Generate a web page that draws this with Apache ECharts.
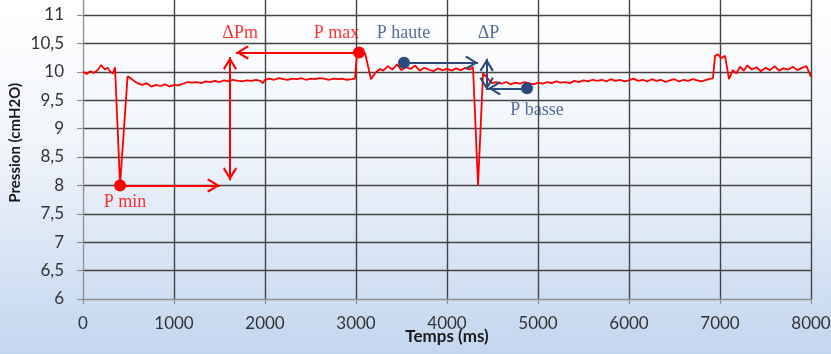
<!DOCTYPE html>
<html>
<head>
<meta charset="utf-8">
<script src="https://cdn.jsdelivr.net/npm/echarts@6/dist/echarts.min.js"></script>
<style>html,body{margin:0;padding:0;background:#fff;}#chart{width:831px;height:354px;}</style>
</head>
<body>
<div id="chart"></div>
<script>
// ---- data ----
const timeMs = [0,40,80,120,160,200,240,270,300,330,352,407,490,530,570,610,650,700,750,800,850,900,950,1000,1050,1100,1150,1200,1250,1300,1350,1400,1450,1500,1550,1600,1650,1700,1750,1800,1850,1900,1950,1975,2000,2050,2100,2150,2200,2250,2300,2350,2400,2450,2500,2550,2600,2650,2700,2750,2800,2850,2900,2950,2989,3011,3040,3070,3099,3165,3210,3264,3300,3350,3400,3450,3500,3550,3600,3650,3700,3750,3800,3850,3900,3950,4000,4050,4100,4150,4200,4250,4286,4341,4396,4440,4490,4540,4600,4650,4700,4750,4800,4850,4900,4950,5000,5050,5100,5150,5200,5250,5300,5350,5400,5450,5500,5550,5600,5650,5700,5750,5800,5850,5900,5950,6000,6050,6100,6150,6200,6250,6300,6350,6400,6450,6500,6550,6600,6650,6700,6750,6800,6850,6900,6923,6945,6980,7010,7055,7099,7140,7180,7220,7260,7300,7350,7400,7450,7500,7550,7600,7650,7700,7750,7800,7850,7900,7950,8000];
const pressure = [10.00,9.96,10.01,9.98,10.03,10.12,10.04,10.07,10.00,9.97,10.08,8.00,9.92,9.88,9.83,9.79,9.77,9.80,9.74,9.77,9.75,9.78,9.74,9.77,9.76,9.79,9.82,9.81,9.82,9.80,9.83,9.82,9.84,9.82,9.85,9.83,9.86,9.84,9.83,9.85,9.84,9.86,9.84,9.80,9.86,9.88,9.86,9.89,9.87,9.86,9.88,9.87,9.89,9.86,9.88,9.87,9.89,9.88,9.86,9.88,9.87,9.88,9.86,9.87,9.88,10.33,10.36,10.31,10.33,9.87,9.98,10.05,10.02,10.10,10.04,10.13,10.03,10.08,10.05,10.11,10.02,10.07,10.04,10.01,10.06,10.03,10.05,10.02,10.06,10.03,10.07,10.04,10.08,8.00,9.97,9.90,9.80,9.82,9.79,9.82,9.78,9.81,9.79,9.82,9.80,9.78,9.81,9.79,9.82,9.80,9.83,9.81,9.82,9.80,9.84,9.82,9.85,9.83,9.86,9.84,9.86,9.83,9.87,9.84,9.86,9.83,9.85,9.88,9.84,9.86,9.83,9.87,9.84,9.86,9.82,9.85,9.87,9.83,9.86,9.84,9.87,9.85,9.83,9.86,9.88,9.89,10.28,10.31,10.24,10.28,9.87,10.03,9.97,10.09,10.02,10.11,10.04,10.08,10.01,10.07,10.03,10.10,10.02,10.06,10.04,10.09,10.03,10.07,10.10,9.91];

// marked points
const redPointNames = ['P min', 'P max'];
const redPointX = [407, 3033];
const redPointY = [8.00, 10.34];
const bluePointNames = ['P haute', 'P basse'];
const bluePointX = [3527, 4879];
const bluePointY = [10.16, 9.71];

// arrows: [x start, y start, x end (tip), y end (tip), double headed]
const redArrows = [[407, 8.00, 1505, 8.00, 0], [1615, 8.09, 1615, 10.26, 1], [3033, 10.34, 1681, 10.34, 0]];
const blueArrows = [[3527, 10.16, 4341, 10.16, 0], [4436, 9.68, 4436, 10.23, 1], [4879, 9.71, 4451, 9.71, 0]];

// annotation texts
const redLabelTexts = ['P min', '\u0394Pm', 'P max'];
const redLabelX = [462, 1727, 2786];
const redLabelY = [7.70, 10.67, 10.67];
const blueLabelTexts = ['P haute', '\u0394P', 'P basse'];
const blueLabelX = [3522, 4456, 4989];
const blueLabelY = [10.67, 10.67, 9.33];

// ---- styles ----
const RED = '#FF0000';
const BLUE = '#2A4A7F';
const GRID = '#444444';
const AXIS = '#8f8f8f';
const chevron = 'path://M13,0L26,21L23,24L13,7L3,24L0,21Z';

function arrowData(list) {
  return list.map(a => {
    const head = { symbol: chevron, symbolSize: [14, 13], symbolOffset: [0, '50%'] };
    const start = Object.assign({ coord: [a[0], a[1]] }, a[4] ? head : { symbol: 'none' });
    const end = Object.assign({ coord: [a[2], a[3]] }, head);
    return [start, end];
  });
}
function namedData(texts, xs, ys) {
  return texts.map((t, i) => ({ name: t, value: [xs[i], ys[i]] }));
}

const chart = echarts.init(document.getElementById('chart'), null, { renderer: 'canvas' });
const option = {
  animation: false,
  backgroundColor: {
    type: 'linear', x: 0, y: 0, x2: 0, y2: 1,
    colorStops: [
      { offset: 0, color: '#FFFFFF' },
      { offset: 0.4, color: '#F1F5FB' },
      { offset: 1, color: '#C2D6EF' }
    ]
  },
  grid: { left: 83, right: 20, top: -13.4, bottom: 55, containLabel: false, outerBoundsMode: 'none' },
  xAxis: {
    type: 'value', min: 0, max: 8000, interval: 1000,
    name: 'Temps (ms)', nameLocation: 'middle', nameGap: 29, nameMoveOverlap: false,
    nameTextStyle: { fontFamily: 'Lato', fontWeight: 'bold', fontSize: 17, color: '#1a1a1a' },
    axisLine: { show: true, onZero: false, lineStyle: { color: AXIS, width: 1.3 } },
    axisTick: { show: true, length: 5, lineStyle: { color: AXIS, width: 1.2 } },
    axisLabel: { fontFamily: 'Lato', fontSize: 17, color: '#333333', margin: 16,
      formatter: v => String(v) },
    splitLine: { show: true, showMinLine: false, lineStyle: { color: GRID, width: 1.4 } }
  },
  yAxis: {
    type: 'value', min: 6, max: 11.5, interval: 0.5,
    name: 'Pression (cmH2O)', nameLocation: 'middle', nameGap: 60, nameRotate: 90, nameMoveOverlap: false,
    nameTextStyle: { fontFamily: 'Lato', fontWeight: 'bold', fontSize: 15, color: '#1a1a1a' },
    axisLine: { show: true, lineStyle: { color: AXIS, width: 1.3 } },
    axisTick: { show: true, length: 6, lineStyle: { color: AXIS, width: 1.2 } },
    axisLabel: { fontFamily: 'Lato', fontSize: 17, color: '#333333', margin: 19,
      formatter: v => String(v).replace('.', ',') },
    splitLine: { show: true, showMinLine: false, lineStyle: { color: GRID, width: 1.4 } }
  },
  series: [
    {
      name: 'Pression', type: 'line', z: 2,
      data: timeMs.map((t, i) => [t, pressure[i]]),
      showSymbol: false, symbol: 'none',
      lineStyle: { color: RED, width: 1.8 },
      silent: true
    },
    {
      name: 'redArrows', type: 'scatter', z: 3, data: [], silent: true,
      markLine: {
        silent: true, animation: false,
        label: { show: false },
        emphasis: { disabled: true },
        lineStyle: { color: RED, width: 2, type: 'solid' },
        itemStyle: { color: RED },
        data: arrowData(redArrows)
      }
    },
    {
      name: 'blueArrows', type: 'scatter', z: 3, data: [], silent: true,
      markLine: {
        silent: true, animation: false,
        label: { show: false },
        emphasis: { disabled: true },
        lineStyle: { color: BLUE, width: 2, type: 'solid' },
        itemStyle: { color: BLUE },
        data: arrowData(blueArrows)
      }
    },
    {
      name: 'redPoints', type: 'scatter', z: 5, silent: true,
      symbolSize: 12, itemStyle: { color: RED, opacity: 1 },
      data: namedData(redPointNames, redPointX, redPointY)
    },
    {
      name: 'bluePoints', type: 'scatter', z: 5, silent: true,
      symbolSize: 12, itemStyle: { color: BLUE, opacity: 1 },
      data: namedData(bluePointNames, bluePointX, bluePointY)
    },
    {
      name: 'redLabels', type: 'scatter', z: 6, silent: true,
      symbol: 'circle', symbolSize: 1, itemStyle: { color: 'rgba(0,0,0,0)' },
      label: { show: true, position: 'inside', formatter: '{b}', color: RED,
        fontFamily: 'Liberation Serif', fontSize: 18 },
      labelLayout: { hideOverlap: false },
      data: namedData(redLabelTexts, redLabelX, redLabelY)
    },
    {
      name: 'blueLabels', type: 'scatter', z: 6, silent: true,
      symbol: 'circle', symbolSize: 1, itemStyle: { color: 'rgba(0,0,0,0)' },
      label: { show: true, position: 'inside', formatter: '{b}', color: BLUE,
        fontFamily: 'Liberation Serif', fontSize: 18 },
      labelLayout: { hideOverlap: false },
      data: namedData(blueLabelTexts, blueLabelX, blueLabelY)
    }
  ]
};
chart.setOption(option);
</script>
</body>
</html>
